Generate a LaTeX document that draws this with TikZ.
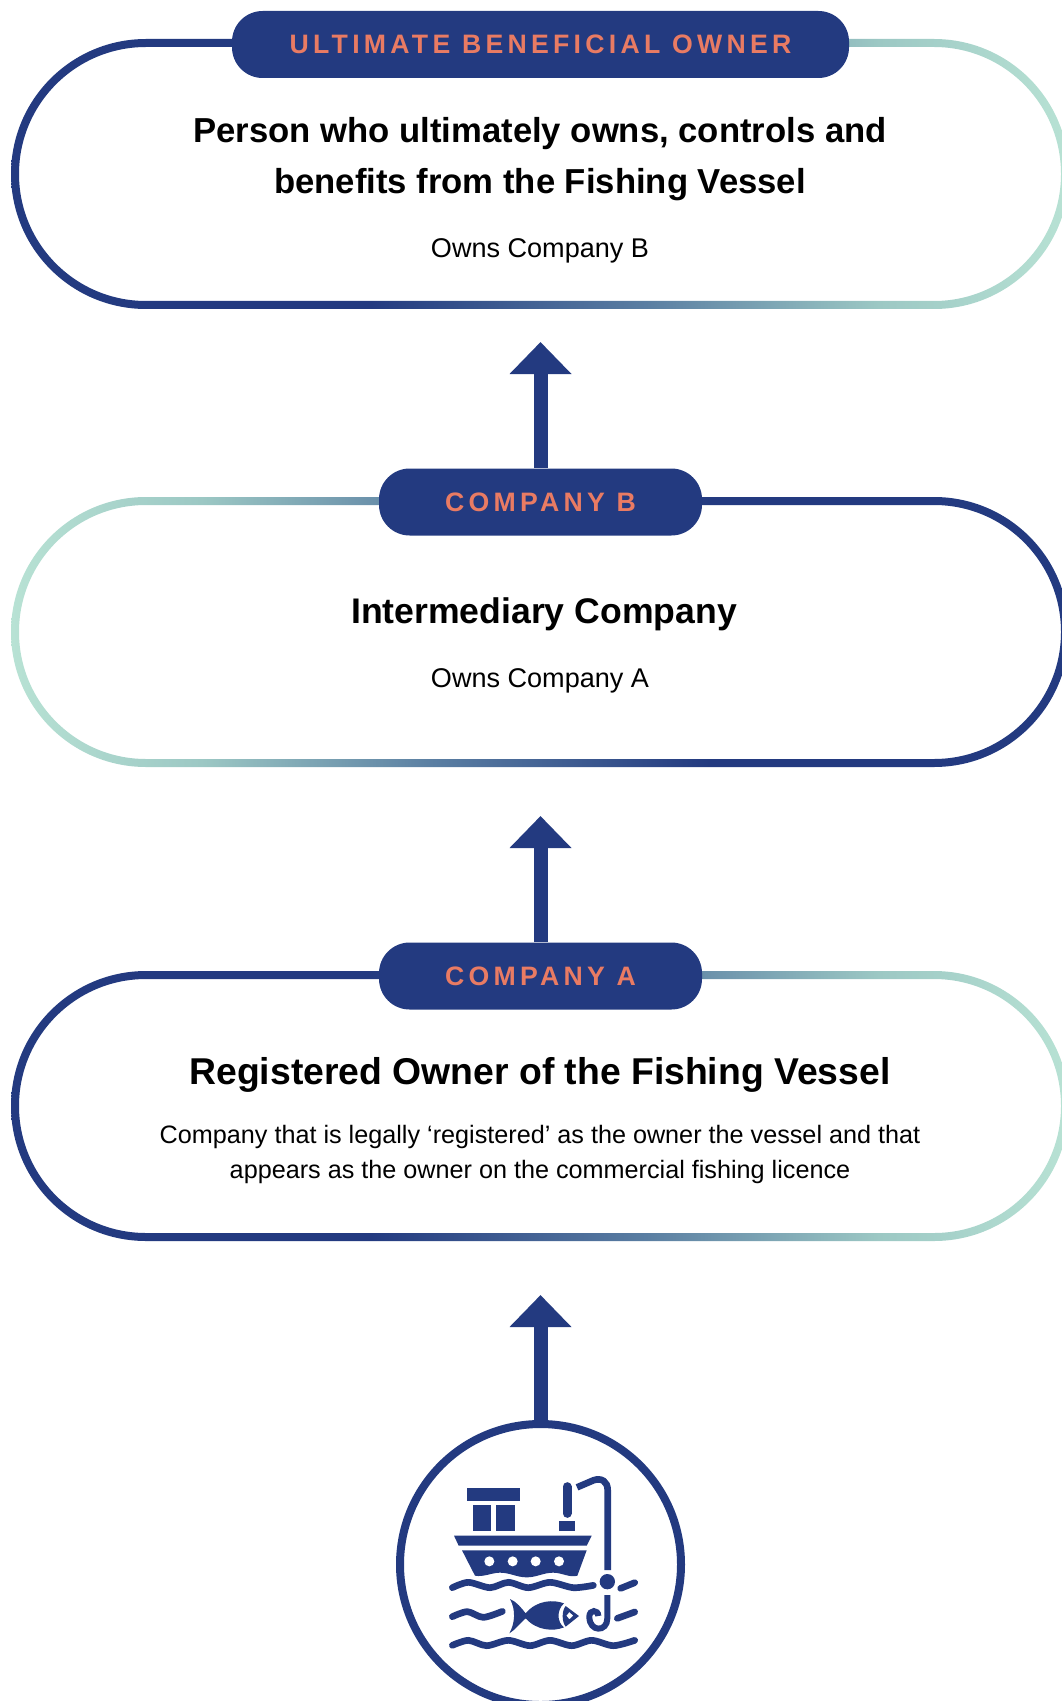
\documentclass[tikz,border=0pt]{standalone}
\usepackage{fontspec}
\setmainfont{Liberation Sans}
\newfontfamily\pillfont[LetterSpace=16]{Liberation Sans}
\usetikzlibrary{arrows.meta}
\definecolor{Navy_blue}{HTML}{233A80}
\definecolor{Coral_red}{HTML}{E97B63}
\definecolor{Slate_blue}{HTML}{5A7EA2}
\definecolor{Teal_gray}{HTML}{9CC8C4}
\definecolor{Mint_green}{HTML}{B8E2D4}
\pgfdeclarehorizontalshading{ownerfade}{100bp}{color(0bp)=(Navy_blue); color(25bp)=(Navy_blue); color(42bp)=(Navy_blue); color(55bp)=(Slate_blue); color(66bp)=(Teal_gray); color(75bp)=(Mint_green); color(100bp)=(Mint_green)}
\newcommand{\ownerring}[3]{
    \shade[shading=ownerfade, shading angle=#3, even odd rule]
        (146,#1-4) -- (934,#1-4) arc[start angle=-90, end angle=0, x radius=135, y radius=(#2-#1+8)/2]
        arc[start angle=0, end angle=90, x radius=135, y radius=(#2-#1+8)/2] -- (146,#2+4)
        arc[start angle=90, end angle=180, x radius=135, y radius=(#2-#1+8)/2]
        arc[start angle=180, end angle=270, x radius=135, y radius=(#2-#1+8)/2] -- cycle
        (146,#1+4) -- (934,#1+4) arc[start angle=-90, end angle=0, x radius=127, y radius=(#2-#1-8)/2]
        arc[start angle=0, end angle=90, x radius=127, y radius=(#2-#1-8)/2] -- (146,#2-4)
        arc[start angle=90, end angle=180, x radius=127, y radius=(#2-#1-8)/2]
        arc[start angle=180, end angle=270, x radius=127, y radius=(#2-#1-8)/2] -- cycle;
}
\tikzset{
    pillbox/.style={fill=Navy_blue, rounded corners=23pt, inner sep=0pt, minimum height=50.25pt, text=Coral_red, font=\pillfont\bfseries\fontsize{20}{24}\selectfont},
    headtext/.style={anchor=base, font=\bfseries\fontsize{#1}{30}\selectfont},
    subtext/.style={anchor=base, font=\fontsize{#1}{22}\selectfont},
    ownarrow/.style={draw=Navy_blue, line width=10.5pt, -{Triangle[width=45pt,length=24pt]}},
    waveline/.style={draw=Navy_blue, line width=5pt, line cap=round}
}
\begin{document}
\begin{tikzpicture}[x=0.75pt, y=-0.75pt]
    \useasboundingbox (0,0) rectangle (1061,1701);
    % rings
    \ownerring{43}{305}{0}
    \ownerring{501}{763}{180}
    \ownerring{975}{1237}{0}
    % labels on top of the rings
    \node[pillbox, minimum width=462.75pt] (ownerpill) at (540.5,44.5) {ULTIMATE BENEFICIAL OWNER};
    \node[pillbox, minimum width=242.25pt] (companybpill) at (540.5,502) {COMPANY B};
    \node[pillbox, minimum width=242.25pt] (companyapill) at (540.5,976) {COMPANY A};
    % ring texts
    \node[headtext=26] (ownerhead) at (540,142.5) {Person who ultimately owns, controls and};
    \node[headtext=26] (ownerheadb) at (540,194) {benefits from the Fishing Vessel};
    \node[subtext=20.3] (ownersub) at (540,258) {Owns Company B};
    \node[headtext=26.7] (companybhead) at (544,623) {Intermediary Company};
    \node[subtext=20.3] (companybsub) at (540,687) {Owns Company A};
    \node[headtext=28] (companyahead) at (540,1084) {Registered Owner of the Fishing Vessel};
    \node[subtext=18.9] (companyasub) at (540,1143) {Company that is legally ‘registered’ as the owner the vessel and that};
    \node[subtext=18.9] (companyasubb) at (540,1178) {appears as the owner on the commercial fishing licence};
    % vessel circle and arrows
    \node[circle, draw=Navy_blue, fill=white, line width=6pt, minimum size=210.75pt, inner sep=0pt] (vesselcircle) at (540.5,1564.5) {};
    \coordinate (ownertip) at (540.5,342);
    \coordinate (companybtip) at (540.5,816);
    \coordinate (companyatip) at (540.5,1295);
    \draw[ownarrow] (companybpill.north) -- (ownertip);
    \draw[ownarrow] (companyapill.north) -- (companybtip);
    \draw[ownarrow] (vesselcircle.north) -- (companyatip);
    % vessel icon, in steps of a third of a pixel
    \begin{scope}[shift={(380,1400)}, x=0.25pt, y=-0.25pt]
        \fill[Navy_blue] (260,263) rectangle (421,302);
        \fill[Navy_blue] (279,316) rectangle (333,393);
        \fill[Navy_blue] (348,316) rectangle (404,393);
        \fill[Navy_blue] (537,363) rectangle (584,394);
        \draw[Navy_blue, line width=6.75pt, line cap=round] (561,260) -- (561,340);
        \fill[Navy_blue] (222,407) -- (635,407) -- (620,437) -- (236,437) -- cycle;
        \fill[Navy_blue] (246,451) -- (620,451) -- (592,527) .. controls (570,534) and (545,518) .. (520,518) .. controls (490,518) and (470,532) .. (440,532) .. controls (410,532) and (390,518) .. (360,518) .. controls (335,518) and (310,532) .. (285,527) -- cycle;
        \foreach \holex in {328,398,467,537}
            \fill[white] (\holex,484) circle[radius=15];
        \draw[Navy_blue, line width=5pt] (591,262) -- (640,241) .. controls (665,232) and (683,245) .. (683,270) -- (683,510);
        \fill[Navy_blue] (682,545) circle[radius=23];
        % water
        \draw[waveline] plot[smooth] coordinates {(217,563) (265,547) (330,563) (385,547) (445,563) (510,547) (580,563) (640,556)};
        \draw[waveline] plot[smooth] coordinates {(217,650) (262,635) (310,652) (367,634)};
        \draw[waveline] plot[smooth] coordinates {(217,736) (265,721) (320,737) (385,721) (450,737) (510,721) (575,737) (635,721) (700,737) (764,721)};
        \draw[waveline] (722,565) -- (764,548);
        \draw[waveline] (712,655) -- (764,636);
        % fish and hook
        \fill[Navy_blue] (437,640) .. controls (470,600) and (520,598) .. (552,610) .. controls (530,630) and (530,665) .. (552,682) .. controls (520,695) and (470,692) .. (437,655) .. controls (420,670) and (405,690) .. (388,700) .. controls (405,670) and (408,630) .. (390,597) .. controls (410,605) and (425,625) .. (437,640) -- cycle;
        \fill[Navy_blue, even odd rule] (557,618) -- (597,648) -- (557,680) .. controls (545,665) and (545,632) .. (557,618) -- cycle (568,636) -- (580,647) -- (568,658) -- (559,647) -- cycle;
        \draw[Navy_blue, line width=4.5pt] (682,585) -- (682,655) .. controls (682,697) and (628,697) .. (628,650) .. controls (628,628) and (655,628) .. (655,648);
    \end{scope}
\end{tikzpicture}
\end{document}
